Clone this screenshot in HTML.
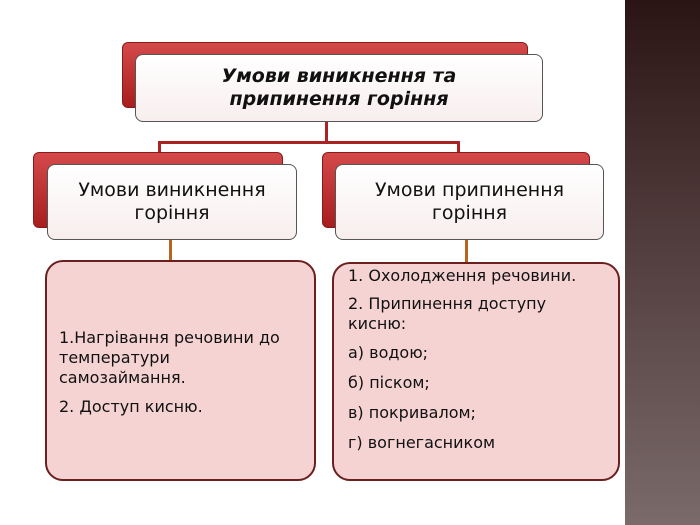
<!DOCTYPE html>
<html><head><meta charset="utf-8"><style>
body{margin:0;width:700px;height:525px;background:#fff;position:relative;overflow:hidden;font-family:"DejaVu Sans","Liberation Sans",sans-serif;}
.abs{position:absolute;box-sizing:border-box;}
.red{background:linear-gradient(#d44a4a,#a81e1e);border-radius:6px;border:1px solid #8a1a1a;}
.wb{background:linear-gradient(#fff,#f8eeee);border:1px solid #555;border-radius:8px;display:flex;align-items:center;justify-content:center;text-align:center;color:#111;}
.pink{background:#f5d3d3;border:2px solid #6b1f1f;border-radius:18px;color:#111;font-size:16px;}
.line{background:#a22;position:absolute;}
.ol{background:#b5651d;position:absolute;}
p{margin:0 0 9px 0;}
</style></head><body>
<div class="abs" style="left:625px;top:0;width:75px;height:525px;background:linear-gradient(#2a1414,#4d3838 40%,#7a6a6a);"></div>

<div class="abs red" style="left:122px;top:42px;width:406px;height:66px;"></div>
<div class="abs wb" style="left:135px;top:54px;width:408px;height:68px;font-size:19px;font-weight:bold;font-style:italic;line-height:23px;">Умови виникнення та<br>припинення горіння</div>

<div class="line" style="left:325px;top:122px;width:3px;height:21px;"></div>
<div class="line" style="left:158px;top:141px;width:302px;height:3px;"></div>
<div class="line" style="left:158px;top:141px;width:3px;height:13px;"></div>
<div class="line" style="left:457px;top:141px;width:3px;height:13px;"></div>

<div class="abs red" style="left:33px;top:152px;width:250px;height:76px;"></div>
<div class="abs wb" style="left:47px;top:164px;width:250px;height:76px;font-size:19px;line-height:23px;">Умови виникнення<br>горіння</div>
<div class="abs red" style="left:322px;top:152px;width:268px;height:76px;"></div>
<div class="abs wb" style="left:335px;top:164px;width:269px;height:76px;font-size:19px;line-height:23px;">Умови припинення<br>горіння</div>

<div class="ol" style="left:169px;top:240px;width:3px;height:21px;"></div>
<div class="ol" style="left:465px;top:240px;width:3px;height:23px;"></div>

<div class="abs pink" style="left:45px;top:260px;width:271px;height:221px;padding:66px 10px 0 12px;line-height:20px;">
<p>1.Нагрівання речовини до<br>температури<br>самозаймання.</p><p>2. Доступ кисню.</p></div>
<div class="abs pink" style="left:332px;top:262px;width:288px;height:219px;padding:2px 10px 0 14px;line-height:20px;">
<p style="margin-bottom:8px">1. Охолодження речовини.</p><p>2. Припинення доступу<br>кисню:</p><p>а) водою;</p><p style="margin-top:10px">б) піском;</p><p style="margin-top:10px">в) покривалом;</p><p style="margin-top:10px">г) вогнегасником</p></div>
</body></html>
